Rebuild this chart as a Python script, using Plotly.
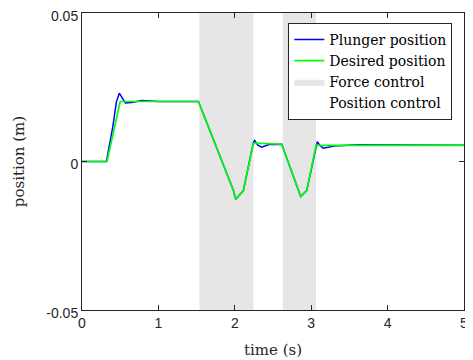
import plotly.graph_objects as go

# Desired position (m) vs time (s)
t_des = [0.0, 0.327, 0.50, 1.524, 1.98, 2.013, 2.112, 2.243, 2.614, 2.863, 2.941, 3.063, 5.0]
y_des = [0.0, 0.0, 0.0202, 0.0202, -0.0096, -0.0127, -0.0098, 0.0062, 0.0058, -0.0118, -0.0098, 0.0054, 0.0054]

# Measured plunger position (m) vs time (s)
t_pl = [0.0, 0.32, 0.40, 0.45, 0.488, 0.52, 0.567, 0.65, 0.784, 1.0, 1.524, 1.98, 2.013, 2.112,
        2.243, 2.26, 2.30, 2.35, 2.45, 2.614, 2.863, 2.941, 3.063, 3.08, 3.12, 3.16, 3.3, 3.6, 5.0]
y_pl = [0.0, 0.0, 0.0112, 0.0200, 0.0230, 0.0218, 0.0197, 0.0199, 0.0205, 0.0202, 0.0202, -0.0096, -0.0127, -0.0098,
        0.0064, 0.0071, 0.0055, 0.0048, 0.0057, 0.0058, -0.0118, -0.0098, 0.0058, 0.0067, 0.0052, 0.0045, 0.0052, 0.0056, 0.0055]

# Control mode intervals (s)
force_start = [1.537, 2.627]
force_end = [2.243, 3.063]
pos_start = [0.0, 2.243, 3.063]
pos_end = [1.537, 2.627, 5.0]

y_lo, y_hi = -0.05, 0.05


def region_xy(starts, ends):
    xs, ys = [], []
    for a, b in zip(starts, ends):
        xs += [a, a, b, b, a, None]
        ys += [y_lo, y_hi, y_hi, y_lo, y_lo, None]
    return xs, ys


serif = "DejaVu Serif"
sans = "Liberation Sans"

fx, fy = region_xy(force_start, force_end)
px_, py_ = region_xy(pos_start, pos_end)

fig = go.Figure()
fig.add_trace(go.Scatter(x=px_, y=py_, mode="lines", fill="toself", name="Position control",
                         fillcolor="#ffffff", line=dict(width=0, color="#ffffff"), legendrank=4))
fig.add_trace(go.Scatter(x=fx, y=fy, mode="lines", fill="toself", name="Force control",
                         fillcolor="#e6e6e6", line=dict(width=0, color="#e6e6e6"), legendrank=3))
fig.add_trace(go.Scatter(x=t_pl, y=y_pl, mode="lines", name="Plunger position",
                         line=dict(color="#0000ff", width=1.5), legendrank=1))
fig.add_trace(go.Scatter(x=t_des, y=y_des, mode="lines", name="Desired position",
                         line=dict(color="#00ff00", width=1.7), legendrank=2))

axis_common = dict(showgrid=False, zeroline=False, showline=True, linecolor="#262626", linewidth=1,
                   mirror="ticks", ticks="inside", ticklen=5, tickcolor="#262626", automargin=False,
                   ticklabeloverflow="allow",
                   tickfont=dict(family=sans, size=14, color="#262626"))

fig.update_layout(
    width=465, height=352,
    margin=dict(l=74, r=9, t=5, b=50),
    paper_bgcolor="white", plot_bgcolor="white",
    showlegend=True,
    legend=dict(x=0.9694, y=0.967, xanchor="right", yanchor="top",
                bgcolor="white", bordercolor="#262626", borderwidth=1,
                font=dict(family=serif, size=14, color="black"),
                tracegroupgap=0, itemwidth=30),
    xaxis=dict(range=[0, 5], tickvals=[0, 1, 2, 3, 4, 5], ticktext=["0", "1", "2", "3", "4", "5"],
               title=dict(text="time (s)", font=dict(family=serif, size=15, color="#262626"), standoff=14),
               **axis_common),
    yaxis=dict(range=[y_lo, y_hi], tickvals=[-0.05, 0, 0.05], ticktext=["-0.05", "0", "0.05"],
               ticklabelshift=3,
               title=dict(text="position (m)", font=dict(family=serif, size=15, color="#262626"), standoff=18),
               **axis_common),
)

fig.write_html("out.html")
